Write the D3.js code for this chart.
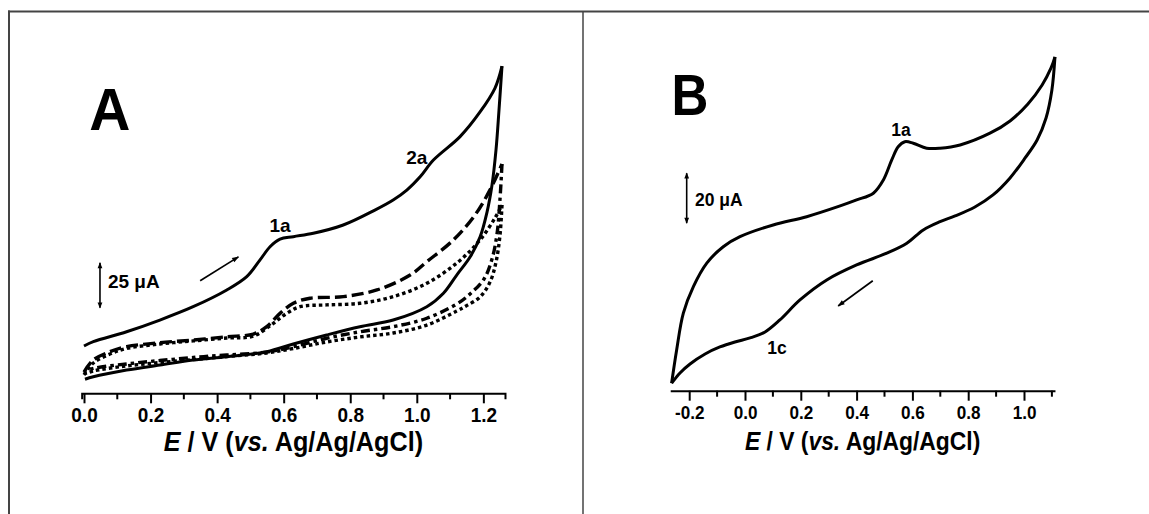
<!DOCTYPE html>
<html><head><meta charset="utf-8">
<script src="https://cdn.jsdelivr.net/npm/d3@7"></script>
<style>
body{margin:0;background:#fff;}
svg text{font-family:"Liberation Sans",Arial,Helvetica,sans-serif;font-weight:bold;fill:#000;}
</style></head>
<body><svg id="c" width="1149" height="514"></svg>
<script>
// ---------- DATA ----------
// Panel A (E in V, I in µA, arbitrary offset)
const A_ticks = [0.0,0.2,0.4,0.6,0.8,1.0,1.2];
const A_solid_fwd_E = [0.000,0.028,0.128,0.228,0.328,0.429,0.489,0.529,0.559,0.589,0.629,0.689,0.779,0.874,0.929,0.970,1.010,1.050,1.130,1.190,1.235,1.256];
const A_solid_fwd_I = [26.3,28.7,34.2,40.7,48.1,57.4,64.8,74.1,81.4,85.6,87.0,88.9,93.5,101.8,107.4,112.9,120.3,129.6,142.6,156.3,169.6,181.8];
const A_solid_rev_E = [1.256,1.247,1.238,1.226,1.211,1.190,1.160,1.120,1.080,1.030,0.929,0.829,0.729,0.629,0.549,0.429,0.328,0.228,0.128,0.028,0.003];
const A_solid_rev_I = [181.8,157.4,135.2,115.7,100.7,86.8,75.7,65.7,55.6,48.1,40.7,37.0,32.4,27.4,23.1,20.3,18.5,15.7,12.9,9.2,7.8];
const A_dash_fwd_E = [0.000,0.028,0.078,0.128,0.228,0.328,0.429,0.509,0.549,0.589,0.629,0.679,0.779,0.880,0.980,1.030,1.110,1.175,1.220,1.256];
const A_dash_fwd_I = [11.8,18.5,23.1,25.9,28.1,29.6,31.4,32.9,37.0,44.4,50.0,52.8,53.7,57.4,65.7,73.1,85.2,99.1,113.0,127.4];
const A_dash_rev_E = [1.256,1.250,1.241,1.226,1.202,1.160,1.120,1.030,0.929,0.829,0.729,0.629,0.549,0.429,0.328,0.228,0.128,0.028,0.000];
const A_dash_rev_I = [127.4,107.9,88.5,74.6,63.5,55.2,49.6,41.7,37.0,34.2,30.6,25.9,22.9,21.3,19.9,18.2,16.3,13.8,11.8];
const A_dot_fwd_E = [0.000,0.028,0.078,0.128,0.228,0.328,0.429,0.509,0.569,0.609,0.649,0.729,0.829,0.929,1.030,1.125,1.190,1.235,1.256];
const A_dot_fwd_I = [10.2,16.8,21.8,24.9,27.4,29.1,30.7,31.8,38.9,44.4,48.1,49.1,50.0,53.7,61.1,73.1,85.2,97.4,104.6];
const A_dot_rev_E = [1.256,1.250,1.238,1.220,1.190,1.148,1.120,1.030,0.929,0.829,0.729,0.629,0.549,0.429,0.328,0.228,0.128,0.028,0.000];
const A_dot_rev_I = [104.6,87.9,72.9,61.8,53.5,48.5,45.7,37.9,33.5,31.3,28.5,24.9,22.4,20.4,18.7,17.1,15.2,12.4,10.7];

// Panel B
const B_ticks = [-0.2,0.0,0.2,0.4,0.6,0.8,1.0];
const B_fwd_E = [-0.263,-0.245,-0.221,-0.185,-0.137,-0.078,-0.018,0.101,0.221,0.341,0.400,0.460,0.496,0.526,0.549,0.573,0.603,0.651,0.699,0.771,0.878,0.950,1.014,1.065,1.097,1.111];
const B_fwd_I = [3.0,16.3,31.0,41.6,51.0,57.6,61.6,66.3,69.6,73.9,76.3,79.0,84.3,92.3,97.6,99.6,99.0,97.0,97.0,98.3,103.0,107.9,114.7,122.3,129.1,133.5];
const B_rev_E = [1.111,1.100,1.079,1.047,1.004,0.950,0.889,0.824,0.753,0.699,0.639,0.580,0.508,0.400,0.293,0.197,0.125,0.072,0.018,-0.036,-0.090,-0.143,-0.197,-0.233,-0.263];
const B_rev_I = [133.5,120.3,109.1,100.3,93.1,85.1,78.3,73.5,69.9,67.6,64.3,59.0,55.0,50.3,44.3,36.3,28.3,23.5,21.1,19.5,17.5,14.7,10.7,7.1,3.0];

const xTitleParts = [["E",true]," / V (",["vs.",true]," Ag/Ag/AgCl)"];

// ---------- DRAW ----------
const svg = d3.select("#c");
// frame
svg.append("line").attr("x1",8).attr("x2",1149).attr("y1",11.5).attr("y2",11.5).attr("stroke","#444").attr("stroke-width",2);
svg.append("line").attr("x1",9).attr("x2",9).attr("y1",10.5).attr("y2",514).attr("stroke","#444").attr("stroke-width",2);
svg.append("line").attr("x1",583).attr("x2",583).attr("y1",11).attr("y2",514).attr("stroke","#444").attr("stroke-width",1.5);

const defs = svg.append("defs");
defs.append("marker").attr("id","ah").attr("viewBox","0 0 10 10").attr("refX",9).attr("refY",5)
  .attr("markerWidth",8).attr("markerHeight",7).attr("orient","auto-start-reverse").attr("markerUnits","userSpaceOnUse")
  .append("path").attr("d","M0,1.5 L10,5 L0,8.5 Z").attr("fill","#000");
defs.append("marker").attr("id","sb").attr("viewBox","0 0 10 10").attr("refX",9).attr("refY",5)
  .attr("markerWidth",8).attr("markerHeight",6).attr("orient","auto-start-reverse").attr("markerUnits","userSpaceOnUse")
  .append("path").attr("d","M0,1 L10,5 L0,9 Z").attr("fill","#000");

function zip(E,I){return E.map((e,i)=>[e,I[i]]);}

function panel(cfg){
  const x = d3.scaleLinear().domain(cfg.xDom).range(cfg.xRange);
  const y = d3.scaleLinear().domain([0,100]).range([cfg.y0, cfg.y0-100*cfg.pxPerUA]);
  const g = svg.append("g");
  const ax = g.append("g").attr("transform",`translate(0,${cfg.y0})`)
    .call(d3.axisBottom(x).tickValues(cfg.ticks).tickFormat(d=>d.toFixed(1)).tickSize(10).tickSizeOuter(cfg.outer).tickPadding(5));
  ax.select(".domain").attr("stroke-width",2);
  ax.selectAll(".tick line").attr("stroke-width",2);
  ax.selectAll(".tick text").attr("font-size",cfg.tickFs).attr("transform",`scale(${cfg.tickSx},1)`);
  // minor ticks
  const minor = d3.range(Math.ceil(cfg.xDom[0]*10), Math.floor(cfg.xDom[1]*10)+1).map(v=>v/10).filter(v=>Math.abs(Math.round(v*10)%2)===1);
  g.selectAll(".mn").data(minor).join("line").attr("x1",d=>x(d)).attr("x2",d=>x(d))
    .attr("y1",cfg.y0).attr("y2",cfg.y0+6).attr("stroke","#000").attr("stroke-width",2);
  // title
  const cx = (x(cfg.xDom[0])+x(cfg.xDom[1]))/2;
  const t = g.append("text").attr("transform",`translate(${cx},${cfg.y0+cfg.titleDy}) scale(${cfg.titleSx},1)`)
    .attr("text-anchor","middle").attr("font-size",cfg.titleFs);
  xTitleParts.forEach(p=>{ if(Array.isArray(p)) t.append("tspan").attr("font-style","italic").text(p[0]); else t.append("tspan").text(p); });
  const line = d3.line().x(d=>x(d[0])).y(d=>y(d[1])).curve(d3.curveCatmullRom.alpha(0.5));
  cfg.series.forEach(s=>{
    g.append("path").attr("d",line(s.data)).attr("fill","none").attr("stroke","#000")
      .attr("stroke-width",s.w||3).attr("stroke-dasharray",s.dash||null).attr("stroke-linejoin","round");
  });
  // scale bar
  const sb = cfg.bar;
  g.append("line").attr("x1",x(sb.E)).attr("x2",x(sb.E)).attr("y1",y(sb.I0)).attr("y2",y(sb.I1))
    .attr("stroke","#000").attr("stroke-width",1.6).attr("marker-start","url(#sb)").attr("marker-end","url(#sb)");
  g.append("text").attr("x",x(sb.tE)).attr("y",y(sb.tI)).attr("dy","0.35em").attr("font-size",cfg.labFs).text(sb.label);
  // direction arrow
  const ar = cfg.arrow;
  g.append("line").attr("x1",x(ar[0])).attr("y1",y(ar[1])).attr("x2",x(ar[2])).attr("y2",y(ar[3]))
    .attr("stroke","#000").attr("stroke-width",1.7).attr("marker-end","url(#ah)");
  cfg.labels.forEach(l=>g.append("text").attr("x",x(l[1])).attr("y",y(l[2])).attr("dy","0.35em").attr("text-anchor","middle").attr("font-size",cfg.labFs).text(l[0]));
  g.append("text").attr("transform",`translate(${x(cfg.big[1])},${y(cfg.big[2])}) scale(${cfg.bigSx},1)`).attr("font-size",cfg.bigFs).text(cfg.big[0]);
}

panel({
  xDom:[-0.007,1.265], xRange:[84-0.007*332.8, 84+1.265*332.8], y0:393.3, pxPerUA:1.8, ticks:A_ticks, outer:6,
  tickFs:20, tickSx:0.95, titleFs:28, titleSx:0.9, titleDy:58, labFs:19, bigFs:60, bigSx:0.95,
  series:[
    {data:zip(A_solid_fwd_E,A_solid_fwd_I)},
    {data:zip(A_solid_rev_E,A_solid_rev_I)},
    {data:zip(A_dash_fwd_E,A_dash_fwd_I),dash:"12,5",w:3.4},
    {data:zip(A_dash_rev_E,A_dash_rev_I),dash:"9,4,3.5,4",w:3.4},
    {data:zip(A_dot_fwd_E,A_dot_fwd_I),dash:"3.5,3",w:3.4},
    {data:zip(A_dot_rev_E,A_dot_rev_I),dash:"3.5,3",w:3.4}
  ],
  bar:{E:0.048,I0:47.5,I1:72.5,tE:0.072,tI:62.1,label:"25 μA"},
  arrow:[0.349,62.5,0.464,75.8],
  labels:[["1a",0.589,93.5],["2a",1.0,131.3]],
  big:["A",0.016,146.5]
});
panel({
  xDom:[-0.268,1.111], xRange:[745-0.268*279, 745+1.111*279], y0:390.7, pxPerUA:2.5, ticks:B_ticks, outer:0,
  tickFs:19, tickSx:0.9, titleFs:26, titleSx:0.88, titleDy:59, labFs:17.5, bigFs:58, bigSx:0.88,
  series:[
    {data:zip(B_fwd_E,B_fwd_I)},
    {data:zip(B_rev_E,B_rev_I)}
  ],
  bar:{E:-0.209,I0:67,I1:87,tE:-0.179,tI:76.3,label:"20 μA"},
  arrow:[0.458,44.0,0.334,33.9],
  labels:[["1a",0.559,104.3],["1c",0.115,17.1]],
  big:["B",-0.263,110.3]
});
</script></body></html>
